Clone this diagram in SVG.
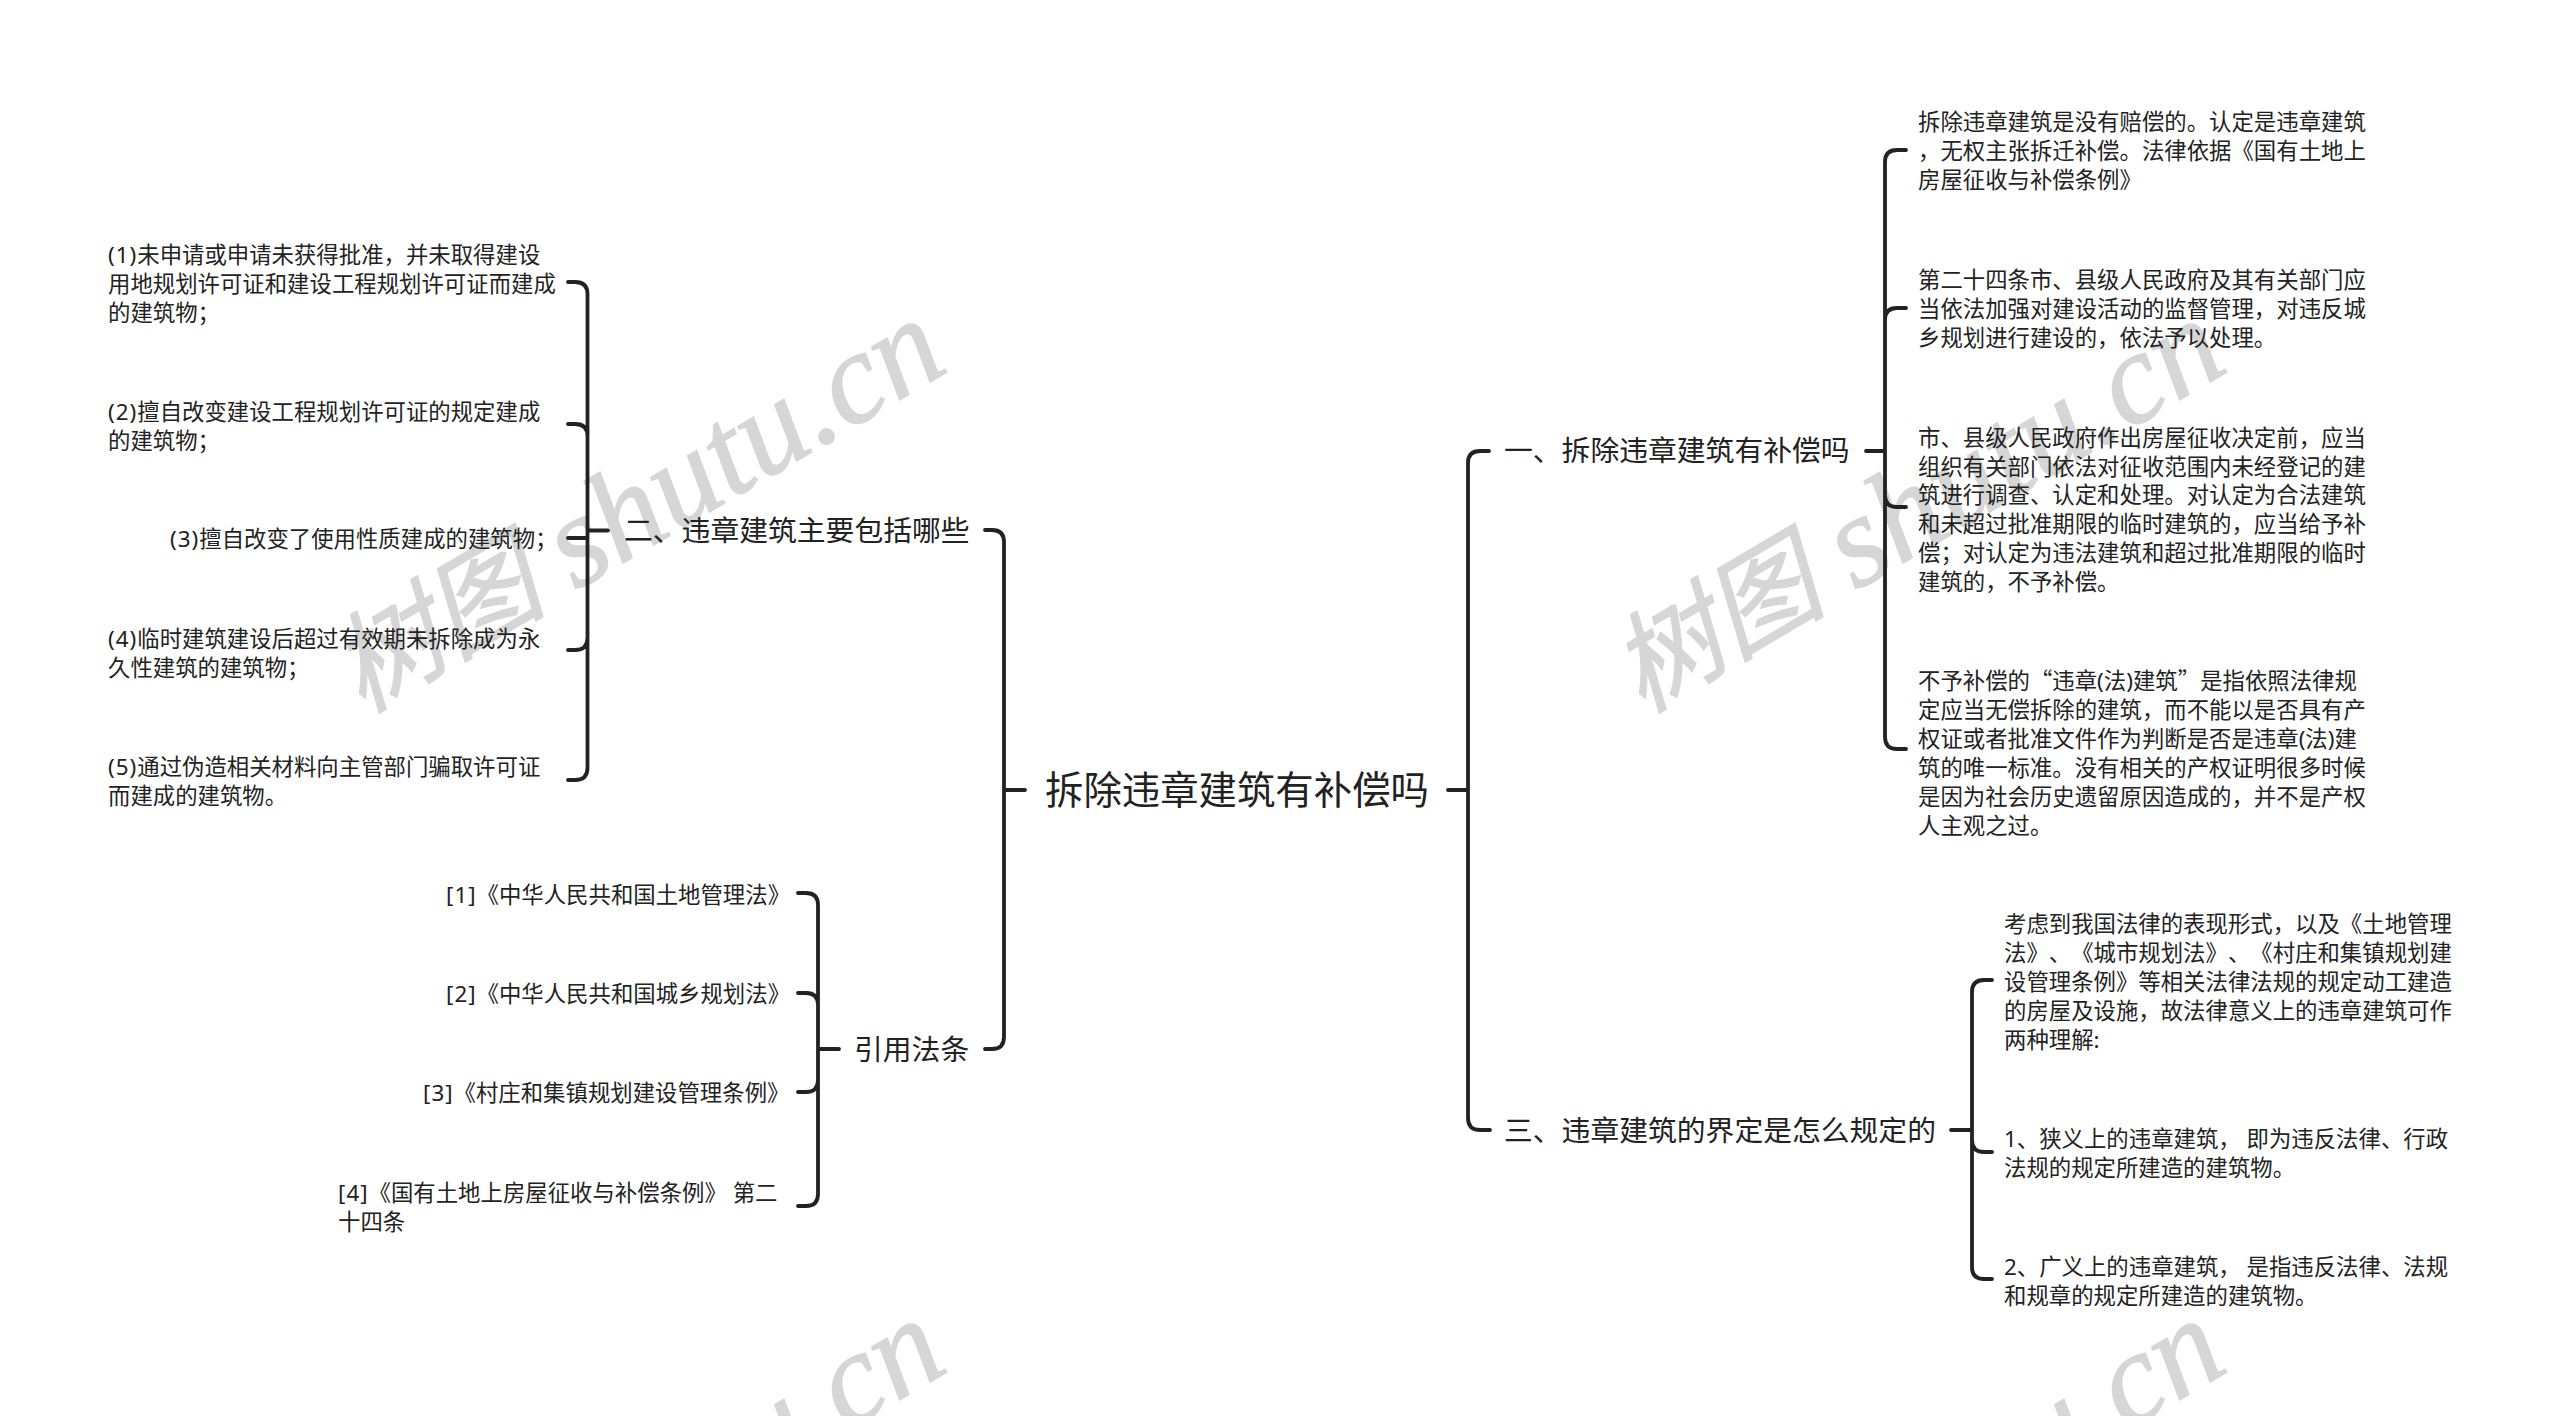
<svg xmlns="http://www.w3.org/2000/svg" width="2560" height="1416" viewBox="0 0 2560 1416">
<style>
text{font-family:"Noto Sans","Noto Sans CJK SC",sans-serif;fill:#222;font-weight:400;text-spacing-trim:space-all}
.s{font-size:22.4px}
.m{font-size:28.8px}
.r{font-size:38.4px}
.q{font-family:"Noto Sans CJK SC",sans-serif}
.c{fill:none;stroke:#222;stroke-width:3.8;stroke-linecap:round}
.w{font-family:"Liberation Serif","Noto Sans CJK SC",serif;font-style:italic;font-size:130px;fill:#d6d6d6;stroke:#d6d6d6;stroke-width:1.5;font-weight:400}
.wc{font-family:"Noto Sans CJK SC",serif;font-size:108px}
</style>
<rect width="2560" height="1416" fill="#fff"/>
<g id="watermarks">
<text class="w" transform="translate(360 718) rotate(-30.5)"><tspan class="wc" x="4" y="-3">树图 </tspan><tspan x="250" y="0">shutu.cn</tspan></text>
<text class="w" transform="translate(1640 718) rotate(-30.5)"><tspan class="wc" x="4" y="-3">树图 </tspan><tspan x="250" y="0">shutu.cn</tspan></text>
<text class="w" transform="translate(360 1718) rotate(-30.5)"><tspan class="wc" x="4" y="-3">树图 </tspan><tspan x="250" y="0">shutu.cn</tspan></text>
<text class="w" transform="translate(1640 1718) rotate(-30.5)"><tspan class="wc" x="4" y="-3">树图 </tspan><tspan x="250" y="0">shutu.cn</tspan></text>
</g>
<g id="connectors">
<path class="c" d="M1025 790H1004M1004 790V542Q1004 530 992 530H985M1004 790V1037Q1004 1049 992 1049H985"/>
<path class="c" d="M608 530.500H587.500M587.500 530V294Q587.500 282 575 282H568M587.500 530V436Q587.500 424 575 424H568M587.500 538H568M587.500 530V638Q587.500 650 575 650H568M587.500 530V768Q587.500 780 575 780H568"/>
<path class="c" d="M839 1049H818M818 1049V905Q818 893 806 893H798M818 1049V1005Q818 993 806 993H798M818 1049V1080Q818 1092 806 1092H798M818 1049V1194Q818 1206 806 1206H798"/>
<path class="c" d="M1448 790H1468M1468 790V463Q1468 451 1480 451H1489M1468 790V1118Q1468 1130 1480 1130H1490"/>
<path class="c" d="M1866 451H1885M1885 451V162Q1885 150 1897 150H1906M1885 451V320Q1885 308 1897 308H1906M1885 451V495Q1885 507 1897 507H1906M1885 451V737Q1885 749 1897 749H1906"/>
<path class="c" d="M1951 1130H1972M1972 1130V992Q1972 980 1984 980H1992M1972 1130V1140Q1972 1152 1984 1152H1992M1972 1130V1267Q1972 1279 1984 1279H1992"/>
</g>
<g id="root"><text class="r" x="1045" y="804">拆除违章建筑有补偿吗</text></g>
<g id="b2"><text class="m" x="624" y="541">二、违章建筑主要包括哪些</text></g>
<g id="b4"><text class="m" x="854" y="1060">引用法条</text></g>
<g id="b1"><text class="m" x="1504" y="461">一、拆除违章建筑有补偿吗</text></g>
<g id="b3"><text class="m" x="1504" y="1141">三、违章建筑的界定是怎么规定的</text></g>
<g id="l1"><text class="s" x="108" y="263" dx="0 1 1 1">(1)未申请或申请未获得批准，并未取得建设</text><text class="s" x="108" y="292">用地规划许可证和建设工程规划许可证而建成</text><text class="s" x="108" y="321">的建筑物；</text></g>
<g id="l2"><text class="s" x="108" y="420" dx="0 1 1 1">(2)擅自改变建设工程规划许可证的规定建成</text><text class="s" x="108" y="449">的建筑物；</text></g>
<g id="l3"><text class="s" x="170" y="547" dx="0 1 1 1">(3)擅自改变了使用性质建成的建筑物；</text></g>
<g id="l4"><text class="s" x="108" y="647" dx="0 1 1 1">(4)临时建筑建设后超过有效期未拆除成为永</text><text class="s" x="108" y="676">久性建筑的建筑物；</text></g>
<g id="l5"><text class="s" x="108" y="775" dx="0 1 1 1">(5)通过伪造相关材料向主管部门骗取许可证</text><text class="s" x="108" y="804">而建成的建筑物。</text></g>
<g id="f1"><text class="s" x="446" y="903" dx="0 1 1 1">[1]《中华人民共和国土地管理法》</text></g>
<g id="f2"><text class="s" x="446" y="1002" dx="0 1 1 1">[2]《中华人民共和国城乡规划法》</text></g>
<g id="f3"><text class="s" x="423" y="1101" dx="0 1 1 1">[3]《村庄和集镇规划建设管理条例》</text></g>
<g id="f4"><text class="s" x="338" y="1201" dx="0 1 1 1">[4]《国有土地上房屋征收与补偿条例》 第二</text><text class="s" x="338" y="1230">十四条</text></g>
<g id="r1"><text class="s" x="1918" y="130">拆除违章建筑是没有赔偿的。认定是违章建筑</text><text class="s" x="1918" y="159">，无权主张拆迁补偿。法律依据《国有土地上</text><text class="s" x="1918" y="187.500">房屋征收与补偿条例》</text></g>
<g id="r2"><text class="s" x="1918" y="287.500">第二十四条市、县级人民政府及其有关部门应</text><text class="s" x="1918" y="316.500">当依法加强对建设活动的监督管理，对违反城</text><text class="s" x="1918" y="345.500">乡规划进行建设的，依法予以处理。</text></g>
<g id="r3"><text class="s" x="1918" y="445.500">市、县级人民政府作出房屋征收决定前，应当</text><text class="s" x="1918" y="474.500">组织有关部门依法对征收范围内未经登记的建</text><text class="s" x="1918" y="502.500">筑进行调查、认定和处理。对认定为合法建筑</text><text class="s" x="1918" y="531.500">和未超过批准期限的临时建筑的，应当给予补</text><text class="s" x="1918" y="560.500">偿；对认定为违法建筑和超过批准期限的临时</text><text class="s" x="1918" y="589.500">建筑的，不予补偿。</text></g>
<g id="r4"><text class="s" x="1918" y="689">不予补偿的<tspan class="q">“</tspan>违章(法)建筑<tspan class="q">”</tspan>是指依照法律规</text><text class="s" x="1918" y="718">定应当无偿拆除的建筑，而不能以是否具有产</text><text class="s" x="1918" y="747">权证或者批准文件作为判断是否是违章(法)建</text><text class="s" x="1918" y="776">筑的唯一标准。没有相关的产权证明很多时候</text><text class="s" x="1918" y="805">是因为社会历史遗留原因造成的，并不是产权</text><text class="s" x="1918" y="834">人主观之过。</text></g>
<g id="t1"><text class="s" x="2004" y="932">考虑到我国法律的表现形式，以及《土地管理</text><text class="s" x="2004" y="961">法》、《城市规划法》、《村庄和集镇规划建</text><text class="s" x="2004" y="990">设管理条例》等相关法律法规的规定动工建造</text><text class="s" x="2004" y="1019">的房屋及设施，故法律意义上的违章建筑可作</text><text class="s" x="2004" y="1048">两种理解:</text></g>
<g id="t2"><text class="s" x="2004" y="1147">1、狭义上的违章建筑， 即为违反法律、行政</text><text class="s" x="2004" y="1176">法规的规定所建造的建筑物。</text></g>
<g id="t3"><text class="s" x="2004" y="1275">2、广义上的违章建筑， 是指违反法律、法规</text><text class="s" x="2004" y="1304">和规章的规定所建造的建筑物。</text></g>
</svg>
